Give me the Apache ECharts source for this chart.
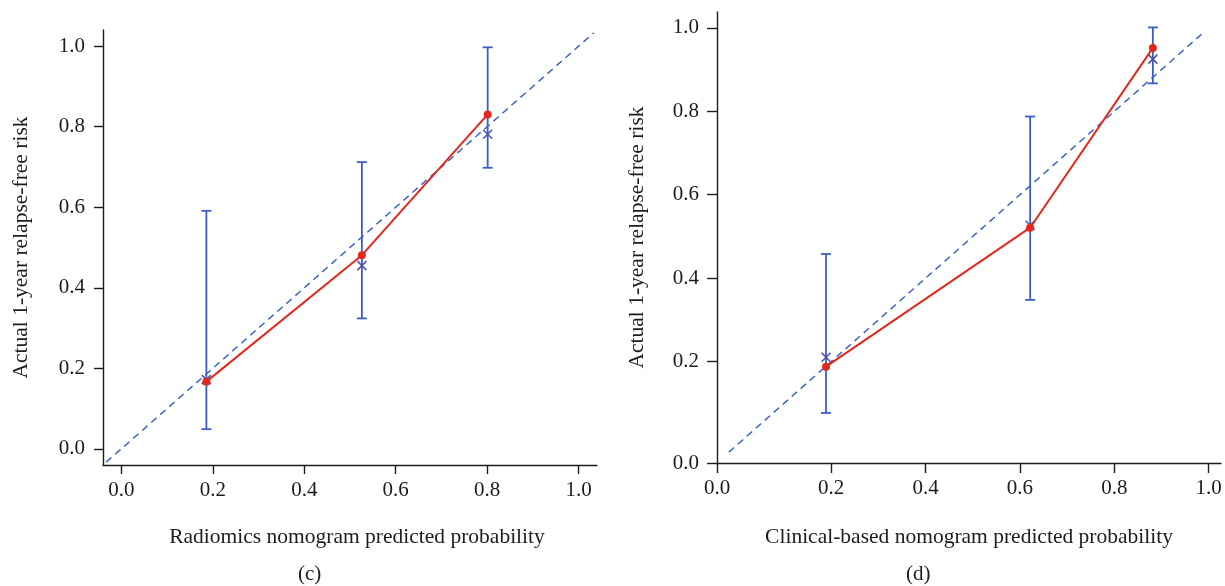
<!DOCTYPE html>
<html>
<head>
<meta charset="utf-8">
<script src="https://cdn.jsdelivr.net/npm/echarts@6/dist/echarts.min.js"></script>
<style>
html,body{margin:0;padding:0;background:#fff;}
#chart{width:1225px;height:586px;}
</style>
</head>
<body>
<div id="chart"></div>
<script>
// ---------- data: panel (c) Radiomics nomogram ----------
const predC   = [0.186, 0.526, 0.801];
const obsC    = [0.167, 0.481, 0.8305];
const crossC  = [0.172, 0.455, 0.781];
const lowC    = [0.049, 0.324, 0.698];
const upC     = [0.591, 0.712, 0.997];
const idealC  = [-0.033, 1.033];

// ---------- data: panel (d) Clinical-based nomogram ----------
const predD   = [0.189, 0.6216, 0.8816];
const obsD    = [0.188, 0.521, 0.952];
const crossD  = [0.2105, 0.527, 0.925];
const lowD    = [0.077, 0.348, 0.867];
const upD     = [0.458, 0.7875, 1.001];
const idealD  = [-0.017, 0.99];

// ---------- ticks ----------
const tickLabels = ['0.0', '0.2', '0.4', '0.6', '0.8', '1.0'];
const tickValsC  = [0, 0.2, 0.4, 0.6, 0.8, 1.0];
const xTickValsD = [-0.042, 0.2, 0.4, 0.6, 0.8, 1.0];
const yTickValsD = [-0.043, 0.2, 0.4, 0.6, 0.8, 1.0];

const xTitleC = 'Radiomics nomogram predicted probability';
const xTitleD = 'Clinical-based nomogram predicted probability';
const yTitle  = 'Actual 1-year relapse-free risk';
const panelLabels = ['(c)', '(d)'];

// ---------- styles ----------
const FONT = 'Liberation Serif';
const TXT = '#1e1b1c';
const BLUE = '#3a5ec4';
const DASH = '#3f64c6';
const CROSS = '#4f4fac';
const RED = '#e3281c';

function axisCommon(vals, tickLen, margin) {
  return {
    type: 'value',
    axisLine: { show: true, onZero: false, lineStyle: { color: '#1e1b1c', width: 1.4 } },
    axisTick: { show: true, length: tickLen, customValues: vals, lineStyle: { color: '#1e1b1c', width: 1.4 } },
    axisLabel: {
      customValues: vals,
      margin: margin,
      fontFamily: FONT, fontSize: 21, color: TXT,
      formatter: function (v) {
        let best = 0, bd = Infinity;
        vals.forEach(function (t, i) { const d = Math.abs(t - v); if (d < bd) { bd = d; best = i; } });
        return tickLabels[best];
      }
    },
    splitLine: { show: false },
    nameLocation: 'middle',
    nameTextStyle: { fontFamily: FONT, fontSize: 21.5, color: TXT }
  };
}

function errRender(params, api) {
  const x = api.value(0), lo = api.value(1), hi = api.value(2);
  const a = api.coord([x, lo]), b = api.coord([x, hi]);
  const cap = 5;
  const st = { stroke: BLUE, lineWidth: 1.8 };
  return {
    type: 'group',
    children: [
      { type: 'line', shape: { x1: a[0], y1: a[1], x2: b[0], y2: b[1] }, style: st },
      { type: 'line', shape: { x1: a[0] - cap, y1: a[1], x2: a[0] + cap, y2: a[1] }, style: st },
      { type: 'line', shape: { x1: b[0] - cap, y1: b[1], x2: b[0] + cap, y2: b[1] }, style: st }
    ]
  };
}

function crossRender(params, api) {
  const p = api.coord([api.value(0), api.value(1)]);
  const s = 4.5;
  const st = { stroke: CROSS, lineWidth: 1.5 };
  return {
    type: 'group',
    children: [
      { type: 'line', shape: { x1: p[0] - s, y1: p[1] - s, x2: p[0] + s, y2: p[1] + s }, style: st },
      { type: 'line', shape: { x1: p[0] - s, y1: p[1] + s, x2: p[0] + s, y2: p[1] - s }, style: st }
    ]
  };
}

function panelSeries(idx, pred, obs, cross, low, up, ideal) {
  return [
    {
      type: 'line', xAxisIndex: idx, yAxisIndex: idx,
      data: [[ideal[0], ideal[0]], [ideal[1], ideal[1]]],
      symbol: 'none', silent: true,
      lineStyle: { color: DASH, width: 1.5, type: [7, 5] }
    },
    {
      type: 'custom', xAxisIndex: idx, yAxisIndex: idx,
      renderItem: errRender,
      encode: { x: 0, y: [1, 2] },
      data: pred.map(function (x, i) { return [x, low[i], up[i]]; })
    },
    {
      type: 'custom', xAxisIndex: idx, yAxisIndex: idx,
      renderItem: crossRender,
      encode: { x: 0, y: 1 },
      data: pred.map(function (x, i) { return [x, cross[i]]; })
    },
    {
      type: 'line', xAxisIndex: idx, yAxisIndex: idx,
      data: pred.map(function (x, i) { return [x, obs[i]]; }),
      symbol: 'circle', symbolSize: 8, showSymbol: true,
      itemStyle: { color: RED },
      lineStyle: { color: RED, width: 2 }
    }
  ];
}

const chart = echarts.init(document.getElementById('chart'), null, { renderer: 'canvas' });

const xC = axisCommon(tickValsC, 9, 15);
Object.assign(xC, { gridIndex: 0, min: -0.04, max: 1.04, name: xTitleC, nameGap: 61 });
xC.nameTextStyle = Object.assign({}, xC.nameTextStyle, { padding: [0, 0, 0, 14] });
const yC = axisCommon(tickValsC, 9, 18);
Object.assign(yC, { gridIndex: 0, min: -0.04, max: 1.04, name: yTitle, nameGap: 71, nameRotate: 90 });

const xD = axisCommon(xTickValsD, 10, 15);
Object.assign(xD, { gridIndex: 1, min: xTickValsD[0], max: 1.026, name: xTitleD, nameGap: 63 });
const yD = axisCommon(yTickValsD, 10, 18);
Object.assign(yD, { gridIndex: 1, min: yTickValsD[0], max: 1.038, name: yTitle, nameGap: 69, nameRotate: 90 });

chart.setOption({
  animation: false,
  backgroundColor: '#ffffff',
  grid: [
    { left: 103, top: 30, width: 494, height: 435, containLabel: false },
    { left: 717, top: 12, width: 504, height: 451, containLabel: false }
  ],
  xAxis: [xC, xD],
  yAxis: [yC, yD],
  graphic: [
    { type: 'text', left: 298, top: 564, style: { text: panelLabels[0], font: '21px "Liberation Serif"', fill: TXT } },
    { type: 'text', left: 906, top: 564, style: { text: panelLabels[1], font: '21px "Liberation Serif"', fill: TXT } }
  ],
  series: [].concat(
    panelSeries(0, predC, obsC, crossC, lowC, upC, idealC),
    panelSeries(1, predD, obsD, crossD, lowD, upD, idealD)
  )
});
</script>
</body>
</html>
